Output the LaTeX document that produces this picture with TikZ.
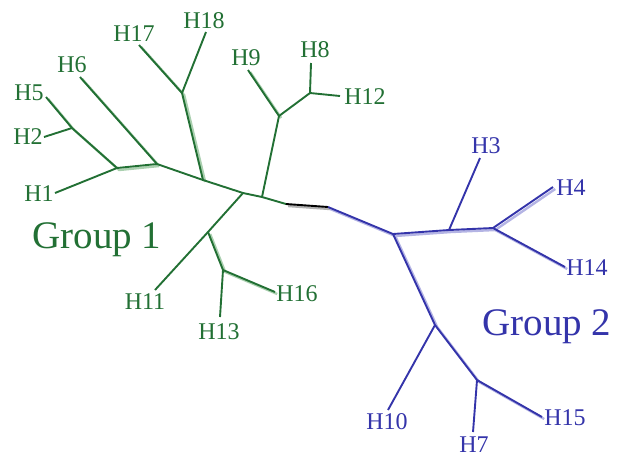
\documentclass[tikz,border=0pt]{standalone}
\usepackage{fontspec}
\setmainfont{Liberation Serif}
\definecolor{gA}{RGB}{34,112,52}
\definecolor{gL}{RGB}{170,208,175}
\definecolor{bA}{RGB}{52,52,170}
\definecolor{bL}{RGB}{180,180,228}
\begin{document}
\begin{tikzpicture}[x=1pt,y=-1pt,
  gedge/.style={draw=gA,line width=1.9pt},
  bedge/.style={draw=bA,line width=1.9pt},
  gshade/.style={draw=gL,line width=2.4pt},
  bshade/.style={draw=bL,line width=2.4pt},
  glab/.style={text=gA,font=\fontsize{24}{24}\selectfont,inner sep=0pt},
  blab/.style={text=bA,font=\fontsize{24}{24}\selectfont,inner sep=0pt},
  grp/.style={font=\fontsize{39}{40}\selectfont,inner sep=0pt}]
\useasboundingbox (0,0) rectangle (617,459);
\def\sh{xshift=2.2pt,yshift=-2pt}
% junctions and leaf ends
\coordinate (A) at (117,168);
\coordinate (P2) at (72,128);
\coordinate (B) at (157,164);
\coordinate (C) at (203,180);
\coordinate (Q) at (182,93);
\coordinate (D) at (243,193);
\coordinate (E) at (262,197);
\coordinate (R) at (279,116);
\coordinate (S) at (310,93);
\coordinate (F) at (286,204);
\coordinate (F2) at (328,207);
\coordinate (G) at (393,234);
\coordinate (Hj) at (449,230);
\coordinate (I) at (493,228);
\coordinate (J) at (435,325);
\coordinate (K) at (477,380);
\coordinate (L) at (208,232);
\coordinate (M) at (223,270);
\coordinate (e1) at (55,193);
\coordinate (e2) at (44,137);
\coordinate (e5) at (46,97);
\coordinate (e6) at (80,77);
\coordinate (e17) at (139,45);
\coordinate (e18) at (206,32);
\coordinate (e9) at (248,70);
\coordinate (e8) at (311,63);
\coordinate (e12) at (340,96);
\coordinate (e3) at (480,158);
\coordinate (e4) at (553,187);
\coordinate (e14) at (565,267);
\coordinate (e10) at (388,410);
\coordinate (e7) at (473,432);
\coordinate (e15) at (542,417);
\coordinate (e11) at (155,290);
\coordinate (e13) at (220,317);
\coordinate (e16) at (275,292);
% shadows
\draw[gshade] ([xshift=2.2pt,yshift=-2pt]e5) -- ([xshift=2.2pt,yshift=-2pt]P2) -- ([xshift=2.2pt,yshift=-2pt]A) -- ([xshift=2.2pt,yshift=-2pt]B);
\draw[gshade] ([xshift=2.2pt,yshift=-2pt]e6) -- ([xshift=2.2pt,yshift=-2pt]B);
\draw[gshade] ([xshift=2.2pt,yshift=-2pt]e17) -- ([xshift=2.2pt,yshift=-2pt]Q) -- ([xshift=2.2pt,yshift=-2pt]C);
\draw[gshade] ([xshift=2.2pt,yshift=-2pt]e9) -- ([xshift=2.2pt,yshift=-2pt]R);
\draw[gshade] ([xshift=2.2pt,yshift=-2pt]L) -- ([xshift=2.2pt,yshift=-2pt]M) -- ([xshift=2.2pt,yshift=-2pt]e16);
\draw[draw=black!30,line width=2.4pt] ([xshift=2.2pt,yshift=-2pt]F) -- ([xshift=2.2pt,yshift=-2pt]F2);
\draw[bshade] ([xshift=2.2pt,yshift=-2pt]F2) -- ([xshift=2.2pt,yshift=-2pt]G) -- ([xshift=2.2pt,yshift=-2pt]Hj) -- ([xshift=2.2pt,yshift=-2pt]I) -- ([xshift=2.2pt,yshift=-2pt]e4);
\draw[bshade] ([xshift=2.2pt,yshift=-2pt]I) -- ([xshift=2.2pt,yshift=-2pt]e14);
\draw[bshade] ([xshift=2.2pt,yshift=-2pt]G) -- ([xshift=2.2pt,yshift=-2pt]J) -- ([xshift=2.2pt,yshift=-2pt]K) -- ([xshift=2.2pt,yshift=-2pt]e15);
% group 1 edges
\draw[gedge] (e5) -- (P2) -- (A) -- (B) -- (C) -- (D) -- (E) -- (F);
\draw[gedge] (P2) -- (e2);
\draw[gedge] (A) -- (e1);
\draw[gedge] (B) -- (e6);
\draw[gedge] (C) -- (Q) -- (e17);
\draw[gedge] (Q) -- (e18);
\draw[gedge] (E) -- (R) -- (e9);
\draw[gedge] (R) -- (S) -- (e8);
\draw[gedge] (S) -- (e12);
\draw[gedge] (D) -- (L) -- (e11);
\draw[gedge] (L) -- (M) -- (e13);
\draw[gedge] (M) -- (e16);
% root
\draw[draw=black,line width=1.9pt] (F) -- (F2);
% group 2 edges
\draw[bedge] (F2) -- (G) -- (Hj) -- (I) -- (e4);
\draw[bedge] (Hj) -- (e3);
\draw[bedge] (I) -- (e14);
\draw[bedge] (G) -- (J) -- (K) -- (e15);
\draw[bedge] (J) -- (e10);
\draw[bedge] (K) -- (e7);
% labels
\node[glab] (H1) at (39,194) {H1};
\node[glab] (H2) at (28,137) {H2};
\node[glab] (H5) at (29,93) {H5};
\node[glab] (H6) at (72,65) {H6};
\node[glab] (H17) at (134,34) {H17};
\node[glab] (H18) at (204,21) {H18};
\node[glab] (H9) at (246,58) {H9};
\node[glab] (H8) at (315,50) {H8};
\node[glab] (H12) at (365,97) {H12};
\node[glab] (H11) at (145,302) {H11};
\node[glab] (H13) at (219,332) {H13};
\node[glab] (H16) at (297,294) {H16};
\node[blab] (H3) at (486,146) {H3};
\node[blab] (H4) at (571,188) {H4};
\node[blab] (H14) at (587,268) {H14};
\node[blab] (H10) at (387,422) {H10};
\node[blab] (H7) at (474,445) {H7};
\node[blab] (H15) at (565,418) {H15};
\node[grp,text=gA] (G1) at (97,240) {Group 1};
\node[grp,text=bA] (G2) at (547,327) {Group 2};
\end{tikzpicture}
\end{document}
